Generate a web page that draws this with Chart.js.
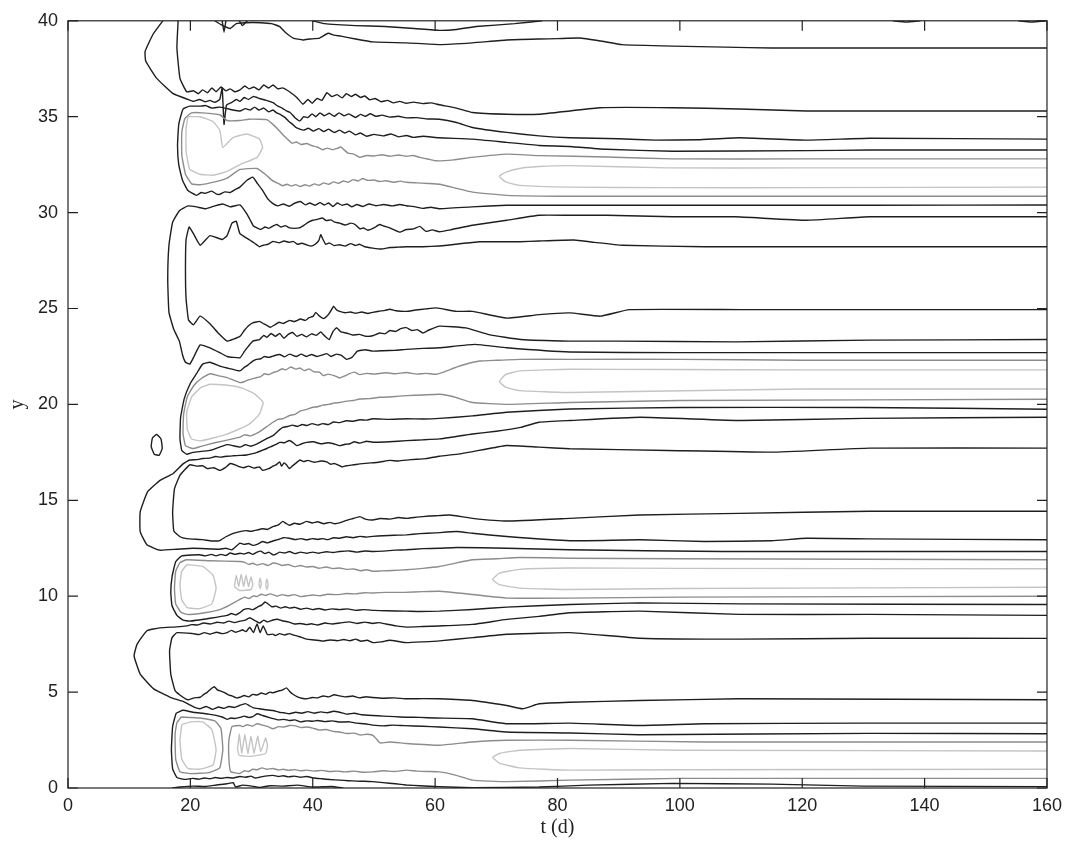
<!DOCTYPE html>
<html>
<head>
<meta charset="utf-8">
<script src="https://cdn.jsdelivr.net/npm/chart.js@4.4.0/dist/chart.umd.min.js"></script>
<style>
  html, body { margin: 0; padding: 0; background: #fff; }
  #wrap { width: 1069px; height: 849px; }
</style>
</head>
<body>
<div id="wrap"><canvas id="contourChart" width="1069" height="849"></canvas></div>
<script>
// tick values
const tTicks = [0, 20, 40, 60, 80, 100, 120, 140, 160];
const yTicks = [0, 5, 10, 15, 20, 25, 30, 35, 40];

// contour lines, each a list of [t, y]

// near the top border
const top39 = [[40,40],[42,39.85],[44,39.8],[47,39.75],[51.8,39.7],[56.6,39.6],[60.7,39.5],[63.5,39.55],[66.7,39.7],[73,39.85],[77.5,40]];
const top38 = [[24,40],[25,39.8],[26.5,39.6],[27.5,39.85],[29,39.9],[31.5,39.9],[33.3,39.85],[34.6,39.7],[35.5,39.4],[36.8,39.1],[38.4,39.0],[39.5,39.05],[41.1,39.1],[42.5,39.35],[43.5,39.25],[44.6,39.2],[47,39.05],[49.8,38.9],[55.3,38.85],[60.7,38.76],[66.1,38.85],[71.7,39.0],[77,39.05],[80,39.07],[83.6,39.1],[87,38.95],[90.6,38.76],[98.8,38.68],[107.4,38.63],[115,38.58],[131,38.58],[145,38.58],[160,38.58]];
const topSpike1 = [[25.2,40],[25.5,39.4],[25.8,40]];
const topSpike2 = [[28,40],[28.5,39.75],[29.3,40]];
const topBit1 = [[134.8,40],[137,39.93],[139.3,40]];
const topBit2 = [[155.3,40],[157.5,39.93],[159.7,40]];

// trough above y = 40
const min0Inner = [[18,40],[17.8,38.6],[18.3,37.0],[19.4,36.3],[20.5,36.35],[21.3,36.2],[22,36.4],[22.8,36.25],[23.5,36.5],[24.2,36.3],[25,36.55],[25.8,36.35],[26.5,36.45],[27.3,36.3],[28.1,36.4],[28.9,36.6],[29.6,36.45],[30.4,36.55],[31.2,36.4],[32,36.65],[32.8,36.5],[33.5,36.65],[34.3,36.45],[35.1,36.5],[36.2,36.3],[37.4,36.0],[38.4,35.65],[39.2,35.9],[39.9,35.7],[40.7,35.95],[41.5,35.85],[42.3,36.25],[43.1,36.05],[44,36.15],[44.8,35.98],[45.5,36.2],[46.3,36.05],[47,36.17],[47.8,36.0],[48.5,36.08],[49.3,35.88],[50.2,35.95],[51.2,35.78],[52.2,35.85],[53.2,35.72],[54.2,35.8],[55.3,35.7],[56.5,35.76],[58,35.68],[59.3,35.72],[60.7,35.62],[63.5,35.45],[66.1,35.22],[71.7,35.13],[77,35.13],[82,35.3],[86.9,35.47],[98.8,35.47],[109.7,35.4],[120.7,35.3],[131,35.3],[160,35.3]];
const min0Outer = [[15.5,40],[13.9,39.3],[12.6,38.4],[12.7,37.9],[14.5,37.0],[17.2,36.2],[19.6,35.9],[20.5,35.8],[21.5,35.9],[22.4,35.78],[23.2,35.85],[24,35.75],[24.8,35.9],[25.2,36.5],[25.5,34.6],[25.9,35.6],[26.8,35.75],[27.5,35.9],[28.1,35.8],[28.8,36.0],[29.5,35.9],[30.3,36.05],[31.3,35.95],[32.4,35.85],[33.5,35.73],[34.3,35.55],[35,35.45],[35.7,35.3],[36.3,35.22],[37.1,34.95],[37.9,34.78],[38.5,35.0],[39.2,34.95],[39.9,35.15],[40.5,35.0],[41.2,35.2],[41.9,35.05],[42.7,35.18],[43.5,35.02],[44.3,35.2],[45.1,35.05],[45.9,35.15],[47,34.96],[47.8,35.12],[48.6,35.02],[49.4,35.15],[50.3,35.02],[51.3,35.08],[52.6,34.98],[54,35.02],[55.3,34.94],[57,34.95],[58.8,34.88],[60.7,34.87],[63.5,34.7],[66.1,34.44],[71.7,34.18],[77,34.0],[82,33.9],[90,33.85],[96,33.78],[103,33.8],[109.7,33.9],[120.7,33.78],[131,33.88],[160,33.83]];

// band near y = 32
const bandDBlack = [[160,33.26],[131,33.26],[120.7,33.23],[98.8,33.2],[88,33.3],[82,33.45],[77,33.5],[71.7,33.66],[66.1,33.83],[60.7,33.9],[58,33.98],[56.5,33.92],[55.3,34.02],[54,33.95],[52.8,34.1],[51.5,34.0],[50,34.08],[48.8,33.98],[47.8,34.15],[47,34.05],[46,34.25],[45.2,34.15],[44.4,34.3],[43.5,34.18],[42.6,34.35],[41.8,34.22],[41,34.38],[40.1,34.25],[39.3,34.4],[38.5,34.3],[37.9,34.35],[37.2,34.45],[36.7,34.6],[36.1,34.75],[35.5,34.95],[34.8,35.1],[34.1,35.2],[33.5,35.35],[32.8,35.25],[32,35.45],[31.2,35.35],[30.5,35.5],[29.8,35.35],[29,35.42],[28.1,35.3],[27,35.35],[26,35.42],[24.8,35.5],[23.5,35.45],[22.5,35.58],[21.6,35.55],[19.9,35.55],[18.8,35.4],[18.1,34.6],[17.9,33.5],[18.1,32.5],[18.7,31.7],[19.6,31.15],[21,30.9],[21.8,31.05],[22.4,31.0],[23.5,31.12],[24.2,30.98],[24.8,30.95],[25.6,31.08],[26.5,31.05],[27.3,31.2],[28.1,31.33],[29.3,31.7],[30.2,31.85],[31.0,31.5],[31.8,31.16],[32.7,30.7],[33.5,30.47],[34.3,30.35],[35.2,30.45],[36.2,30.33],[37.1,30.5],[38,30.58],[38.8,30.4],[39.5,30.5],[40.4,30.38],[41.2,30.52],[41.9,30.4],[42.6,30.5],[43.3,30.32],[44.0,30.5],[44.8,30.38],[45.6,30.45],[46.4,30.3],[47.2,30.42],[48.2,30.32],[49.2,30.45],[50.3,30.36],[51.6,30.42],[53,30.35],[54.2,30.42],[55.3,30.36],[56.8,30.3],[58,30.22],[59.3,30.28],[60.7,30.2],[66,30.3],[71.7,30.38],[77,30.38],[100,30.38],[131,30.38],[160,30.4]];
const bandDGray = [[160,32.8],[120,32.8],[98.8,32.8],[88,32.9],[77,32.97],[71.7,33.05],[66,32.88],[63,32.75],[60.2,32.7],[59,32.78],[57.5,32.88],[56.4,32.98],[55.3,32.94],[54,33.0],[52.6,32.94],[51.3,33.02],[50,32.95],[48.8,32.98],[47.7,32.88],[46.7,33.05],[45.8,33.1],[45.2,33.25],[44.6,33.42],[44,33.35],[43.2,33.28],[42.4,33.36],[41.6,33.28],[40.7,33.42],[39.8,33.5],[39,33.6],[38.1,33.55],[37.3,33.68],[36.6,33.62],[35.8,33.85],[35,34.1],[34.3,34.35],[33.5,34.6],[32.5,34.85],[31.3,34.87],[29.5,34.87],[28.1,34.8],[26,34.8],[24.8,35.1],[22,35.2],[20.2,35.2],[19.1,34.9],[18.6,34.2],[18.6,33.0],[19.2,32.0],[20.2,31.5],[21.6,31.45],[24,31.6],[26,31.8],[28.1,32.25],[30.9,32.3],[32.5,31.93],[33.2,31.72],[33.8,31.6],[34.5,31.5],[35.1,31.4],[35.8,31.48],[36.5,31.38],[37.2,31.46],[38,31.36],[38.7,31.45],[39.5,31.38],[40.3,31.5],[41,31.42],[41.8,31.55],[42.6,31.48],[43.4,31.6],[44.2,31.52],[45,31.65],[45.8,31.58],[46.6,31.72],[47.4,31.65],[48.2,31.78],[49,31.68],[50,31.7],[50.9,31.62],[52,31.66],[53.2,31.58],[54.3,31.64],[55.3,31.58],[57,31.55],[58.8,31.52],[60.7,31.48],[66.1,31.07],[71.7,30.9],[82,30.85],[100,30.85],[160,30.85]];
const bandDLightLoop = [[19.6,35.0],[21.6,35.0],[23.7,34.75],[24.8,34.3],[25.3,33.4],[26.9,33.9],[29.2,34.1],[31.3,33.83],[31.8,33.4],[30.9,32.88],[28.1,32.5],[26,32.15],[23.7,31.95],[21.6,32.0],[19.9,32.25],[19.3,33.2],[19.3,34.4],[19.6,35.0]];
const bandDLightTail = [[160,32.33],[120,32.33],[98,32.33],[82,32.45],[77,32.4],[73.8,32.3],[71.5,32.1],[70.5,31.9],[71.5,31.6],[73.8,31.42],[82,31.33],[98,31.3],[120,31.3],[160,31.33]];

// trough near y = 26.5
const minCDOuter = [[160,29.78],[131,29.78],[120.7,29.6],[109,29.78],[98.8,29.78],[88,29.86],[82,29.86],[77,29.86],[71.7,29.6],[66.1,29.34],[62.5,29.1],[60.7,29.0],[59.5,29.1],[58.5,29.02],[57.5,29.28],[56.5,29.15],[55.3,29.12],[54.2,28.98],[53.3,29.1],[52.5,29.22],[51.6,29.3],[50.9,29.38],[50,29.2],[49,29.08],[48.3,29.2],[47.7,29.15],[46.9,29.38],[46.2,29.45],[45.3,29.35],[44.4,29.45],[43.6,29.5],[43,29.62],[42.2,29.58],[41.6,29.72],[40.8,29.65],[40,29.6],[39.3,29.5],[38.6,29.35],[37.8,29.2],[37,29.18],[36.2,29.2],[35.5,29.32],[34.8,29.25],[34.1,29.38],[33.5,29.3],[32.8,29.18],[32.2,29.25],[31.5,29.12],[30.9,29.2],[30.3,29.3],[29.8,29.6],[29.2,29.95],[28.1,30.4],[26.5,30.3],[25.3,30.45],[24,30.35],[22.5,30.2],[21,30.3],[19.6,30.35],[18.2,30.1],[17.1,29.5],[16.5,28.3],[16.3,26.5],[16.5,24.8],[17.3,23.9],[18.2,23.3],[18.7,22.6],[19.2,22.2],[19.9,22.1],[20.6,22.5],[21.6,23.1],[23.2,22.95],[24.8,22.7],[26,22.5],[28.1,22.43],[28.8,22.75],[29.5,23.04],[30.2,23.3],[31.3,23.38],[32,23.6],[32.5,23.5],[33.2,23.7],[33.9,23.55],[34.6,23.7],[35.3,23.45],[36,23.65],[36.7,23.75],[37.4,23.55],[38.2,23.65],[39,23.52],[39.8,23.68],[40.6,23.6],[41.3,23.78],[42,23.55],[42.7,23.38],[43.3,23.8],[43.9,24.0],[44.6,23.78],[45.5,23.72],[46.5,23.62],[47.6,23.65],[48.7,23.55],[49.8,23.58],[50.9,23.72],[51.8,23.68],[52.6,23.85],[53.5,23.8],[54.4,23.95],[55.3,24.0],[56.2,23.85],[57.1,23.9],[58,23.72],[59,23.88],[60.7,24.08],[65,23.99],[68.8,23.64],[74,23.38],[82,23.3],[90,23.3],[109,23.26],[131,23.35],[160,23.38]];
const minCDInner = [[160,28.22],[120,28.22],[104,28.22],[90.6,28.3],[86,28.45],[82.7,28.57],[77,28.52],[73.8,28.48],[67.3,28.48],[64.7,28.4],[62,28.3],[60.7,28.26],[58,28.22],[55.3,28.22],[54,28.2],[52.6,28.18],[51.2,28.1],[49.8,28.15],[48.5,28.22],[47.6,28.35],[47,28.28],[46.2,28.38],[45.3,28.25],[44.4,28.32],[43.5,28.28],[42.7,28.42],[42.1,28.35],[41.6,28.65],[41.3,28.85],[41.0,28.55],[40.4,28.35],[39.7,28.25],[39,28.32],[38.2,28.4],[37.5,28.35],[36.8,28.5],[36.2,28.45],[35.3,28.52],[34.5,28.42],[33.5,28.5],[32.7,28.35],[31.9,28.3],[31.3,28.22],[30.5,28.4],[29.7,28.57],[28.1,28.9],[27.5,29.55],[26.8,29.45],[26.0,28.8],[25.2,28.6],[23.2,28.8],[21.6,28.3],[20.5,28.9],[19.8,29.25],[19.3,28.6],[19.2,27.0],[19.3,25.5],[19.7,24.4],[20.5,24.15],[21.6,24.6],[23.2,24.2],[24.6,23.7],[26,23.3],[28.1,23.55],[28.8,23.85],[29.5,24.1],[30.2,24.25],[31.3,24.33],[32,24.2],[32.5,24.12],[33.1,24.02],[33.8,24.15],[34.5,24.28],[35.2,24.22],[36.2,24.38],[37,24.32],[38,24.45],[38.8,24.38],[39.4,24.52],[40.1,24.6],[40.5,24.8],[41.1,24.6],[41.8,24.48],[42.6,24.7],[43.1,24.95],[43.4,25.12],[43.9,24.92],[44.4,24.85],[45.3,24.78],[46.2,24.82],[47,24.75],[48,24.82],[49,24.74],[49.8,24.8],[50.8,24.86],[51.8,24.9],[52.6,24.96],[53.6,24.88],[55.3,24.85],[56.8,24.92],[58.5,24.98],[60.2,25.03],[63.5,24.85],[66.1,24.85],[71.7,24.5],[77,24.68],[82,24.77],[87,24.6],[91.7,24.94],[110,24.94],[160,24.94]];

// band near y = 21.3
const bandCBlack = [[160,22.7],[131,22.7],[100,22.7],[82,22.73],[71.7,22.95],[66.5,23.13],[60.7,22.95],[58,22.92],[55.3,22.87],[53.5,22.82],[51.5,22.8],[49.8,22.78],[48.6,22.85],[47.3,22.78],[46.4,22.45],[45.5,22.35],[44.7,22.55],[43.9,22.62],[43,22.5],[42.3,22.65],[41.6,22.58],[40.7,22.5],[39.8,22.6],[39,22.5],[38.1,22.62],[37.3,22.5],[36.2,22.62],[35.4,22.48],[34.6,22.6],[33.5,22.52],[32.8,22.45],[32.1,22.5],[31.5,22.38],[30.8,22.35],[30.2,22.26],[29.4,22.05],[28.7,21.9],[28.1,21.75],[26,21.9],[24.8,22.0],[23.2,22.2],[22,22.1],[21,21.6],[20,21.1],[19.0,20.3],[18.4,19.3],[18.3,18.2],[18.6,17.6],[19.4,17.4],[20.4,17.5],[23.2,17.6],[26,17.9],[28.1,17.77],[29,17.9],[29.8,17.82],[30.9,17.94],[31.8,18.1],[32.7,18.25],[33.5,18.37],[34.3,18.6],[35.1,18.8],[35.9,18.85],[36.7,18.92],[37.5,18.85],[38.3,18.95],[39,18.9],[39.9,19.0],[40.8,18.92],[41.6,19.0],[42.5,18.95],[43.4,19.08],[44.4,19.05],[45.5,19.15],[46.6,19.12],[47.7,19.2],[48.8,19.18],[49.8,19.25],[52.5,19.22],[55.3,19.25],[58,19.24],[60.7,19.27],[66.1,19.4],[71.7,19.59],[82,19.76],[100,19.84],[130,19.84],[160,19.75]];
const bandCGray = [[160,22.3],[120,22.3],[100,22.35],[82,22.35],[73.8,22.35],[70,22.3],[67.3,22.26],[64,22.0],[61.5,21.7],[60.2,21.57],[58.5,21.62],[57,21.58],[55.3,21.66],[53.5,21.6],[51.8,21.65],[50,21.58],[48.8,21.62],[47.7,21.55],[46.8,21.68],[46,21.6],[45.2,21.48],[44.4,21.38],[43.5,21.5],[42.5,21.58],[41.7,21.5],[41.1,21.68],[40.2,21.7],[39.4,21.85],[38.6,21.76],[37.9,21.9],[37.2,21.84],[36.4,21.95],[35.6,21.8],[35,21.86],[34.2,21.72],[33.5,21.66],[32.8,21.55],[32.1,21.6],[31.5,21.45],[30.9,21.4],[30.2,21.34],[29.5,21.28],[28.8,21.18],[28.1,21.14],[26,21.4],[24.5,21.5],[23.2,21.6],[21.8,21.35],[20.6,21.0],[19.5,20.4],[18.9,19.5],[18.8,18.5],[19.2,17.85],[20.4,17.7],[21.6,17.8],[24,18.0],[26.9,18.2],[28.1,18.29],[28.9,18.42],[29.8,18.36],[30.9,18.5],[31.7,18.66],[32.5,18.84],[33.5,19.07],[34.3,19.22],[35.2,19.26],[36.2,19.42],[37.1,19.48],[38,19.66],[39,19.74],[39.9,19.84],[40.8,19.88],[41.6,19.96],[42.6,20.0],[43.5,20.07],[44.4,20.1],[45.5,20.17],[46.6,20.2],[47.7,20.28],[49.3,20.3],[50.9,20.37],[53,20.4],[55.3,20.46],[58,20.49],[60.7,20.53],[63,20.4],[66.1,20.1],[71.7,20.0],[82,20.1],[100,20.2],[160,20.27]];
const bandCLightLoop = [[20.2,20.4],[21.6,20.85],[23.2,21.05],[26,21.0],[28.5,20.85],[30.5,20.55],[31.9,20.1],[31.2,19.45],[29.5,18.95],[26,18.45],[23.7,18.25],[21.6,18.1],[20.2,18.2],[19.5,18.7],[19.4,19.6],[20.2,20.4]];
const bandCLightTail = [[160,21.8],[120,21.8],[98,21.82],[82,21.83],[73.8,21.75],[71.5,21.55],[70.5,21.2],[71.5,20.9],[73.8,20.72],[82,20.62],[98,20.7],[120,20.8],[160,20.8]];

// trough near y = 15.5
const minBCOuter = [[160,19.33],[130,19.27],[110,19.16],[93.5,19.33],[82,19.16],[77,19.07],[74,18.8],[70,18.6],[66.1,18.46],[60.7,18.2],[58,18.15],[55.3,18.11],[52.5,18.05],[49.8,18.03],[48.8,18.08],[47.7,17.98],[46.8,18.05],[46.1,17.95],[45.3,17.92],[44.4,17.85],[43.4,17.95],[42.5,18.0],[41.3,17.95],[40.1,18.05],[39,18.02],[38.2,17.95],[37.4,17.85],[36.8,18.0],[36.2,18.12],[35.4,18.0],[34.6,18.02],[33.9,17.9],[33.2,17.8],[32.5,17.7],[31.7,17.6],[30.9,17.5],[30,17.42],[29.2,17.36],[28.1,17.34],[27,17.32],[26,17.3],[25,17.25],[24.1,17.28],[23.2,17.2],[22,17.18],[21,17.12],[19.9,17.1],[18.8,16.9],[17.2,16.4],[15.1,16.05],[13.0,15.44],[11.8,14.4],[11.8,13.37],[12.9,12.68],[15,12.4],[17.8,12.45],[20.4,12.5],[24.8,12.45],[25.8,12.5],[26.8,12.42],[28.1,12.77],[28.8,12.7],[29.5,12.75],[30.2,12.65],[30.9,12.7],[31.8,12.85],[32.6,12.78],[33.5,12.88],[34.3,12.95],[35.2,13.05],[36.2,13.02],[37.1,12.95],[38.1,13.0],[39,12.94],[39.9,13.0],[40.8,12.96],[41.6,13.0],[42.5,12.95],[43.4,13.05],[44.4,13.02],[45.5,13.1],[46.6,13.05],[47.7,13.12],[48.8,13.08],[49.8,13.12],[51.5,13.15],[53.3,13.18],[55.3,13.2],[57.5,13.26],[60,13.3],[63.5,13.37],[66.1,13.28],[71.7,13.11],[82,12.89],[93.5,12.94],[104,12.85],[115,12.89],[120.7,13.02],[131,12.99],[160,12.94]];
const minBCInner = [[160,17.72],[131,17.72],[115,17.51],[98,17.6],[82,17.69],[77,17.77],[71.7,17.86],[68,17.65],[64,17.42],[60.7,17.3],[58.5,17.17],[56,17.12],[54,17.05],[52.6,17.08],[51,17.0],[49.5,16.95],[47.7,16.9],[46.7,16.85],[45.5,16.8],[44.8,16.74],[44.1,16.85],[43.5,16.92],[42.9,16.88],[42.3,17.0],[41.3,17.05],[40.3,16.98],[39.2,17.08],[38.5,17.02],[37.9,17.1],[37.3,16.95],[36.7,16.8],[36.2,16.65],[35.7,16.85],[35.3,16.95],[34.9,16.78],[34.6,17.0],[34,16.85],[33.5,16.78],[32.8,16.65],[31.8,16.56],[31.3,16.74],[30.4,16.68],[29.5,16.78],[28.7,16.7],[28.1,16.74],[27.3,16.85],[26.5,16.92],[25.7,16.7],[24.8,16.56],[23.8,16.7],[22.8,16.65],[22,16.8],[21,16.78],[19.9,16.85],[18.3,16.3],[17.4,15.6],[17.1,14.4],[17.3,13.4],[18.3,13.1],[19.4,13.0],[22,12.95],[23.5,12.88],[24.8,12.9],[25.8,13.1],[27,13.28],[28.1,13.37],[29.1,13.42],[29.9,13.38],[30.9,13.45],[31.8,13.52],[32.6,13.48],[33.5,13.63],[34.3,13.7],[35.1,13.9],[35.7,13.78],[36.2,13.7],[37,13.8],[37.9,13.75],[39,13.9],[39.9,13.82],[40.8,13.88],[41.8,13.78],[42.8,13.85],[43.6,13.78],[44.4,13.82],[45.5,13.95],[46.6,14.05],[47.7,14.15],[48.6,14.02],[49.8,13.97],[51,14.05],[52.6,14.02],[54,14.1],[55.3,14.06],[57,14.12],[59,14.18],[60.5,14.2],[62.4,14.23],[66.1,14.06],[71.7,13.92],[82,14.06],[93.4,14.23],[109.7,14.32],[131,14.43],[160,14.43]];
const minBCOval = [[14.5,18.45],[15.2,18.2],[15.4,17.7],[14.9,17.35],[14.1,17.4],[13.6,17.8],[13.8,18.25],[14.5,18.45]];

// band near y = 11
const bandBBlack = [[160,12.33],[131,12.33],[107,12.33],[82,12.42],[71.7,12.5],[63.5,12.54],[60.7,12.5],[58,12.48],[55.3,12.42],[53.5,12.4],[51.5,12.35],[49.8,12.33],[48.5,12.36],[47.2,12.3],[46,12.36],[44.4,12.33],[43.3,12.28],[42.2,12.32],[41,12.24],[40,12.3],[39,12.24],[38,12.3],[37.1,12.22],[36.2,12.33],[35.4,12.25],[34.6,12.3],[33.9,12.18],[33.5,12.16],[32.8,12.3],[32.2,12.22],[31.5,12.35],[30.9,12.3],[30.2,12.18],[29.5,12.28],[28.8,12.2],[28.1,12.24],[27.3,12.18],[26.5,12.25],[25.8,12.12],[25,12.18],[24.2,12.1],[23.4,12.18],[22.5,12.1],[21.5,12.16],[20.4,12.15],[18.6,12.1],[17.6,11.8],[17.0,11.0],[16.8,10.2],[17.0,9.5],[17.8,9.0],[18.8,8.75],[19.9,8.7],[23.2,8.85],[26,9.0],[26.7,9.1],[27.4,9.02],[28.1,9.14],[28.7,9.3],[29.5,9.35],[30.2,9.3],[30.9,9.42],[31.7,9.55],[32.2,9.7],[32.6,9.62],[33.3,9.45],[34,9.48],[34.8,9.38],[35.5,9.45],[36.2,9.38],[37.1,9.42],[38,9.32],[39,9.38],[40,9.3],[41,9.36],[42,9.28],[43.1,9.34],[44.4,9.3],[45.7,9.34],[47,9.26],[48.3,9.3],[50,9.26],[52,9.24],[55.3,9.22],[57.5,9.2],[60.7,9.22],[66.1,9.31],[71.7,9.43],[82,9.57],[93.4,9.65],[110,9.6],[160,9.57]];
const bandBGray = [[160,11.9],[100,11.95],[82,11.98],[73.8,12.02],[70,11.95],[66.1,11.9],[63,11.7],[60.7,11.55],[58,11.45],[55.3,11.38],[53,11.34],[51.2,11.32],[49.8,11.3],[48.8,11.38],[47.8,11.33],[46.7,11.42],[45.5,11.4],[44.4,11.47],[43.3,11.44],[42.2,11.52],[41,11.46],[40,11.55],[39,11.52],[38,11.6],[37,11.54],[36,11.65],[35,11.6],[34.2,11.7],[33.5,11.73],[32.7,11.6],[31.8,11.7],[30.9,11.62],[30.2,11.72],[29.5,11.66],[28.8,11.78],[28.1,11.81],[23.2,11.85],[19.4,11.9],[18.3,11.75],[17.6,11.3],[17.4,10.4],[17.6,9.6],[18.5,9.15],[19.5,9.05],[21.6,9.1],[24.8,9.3],[26.5,9.55],[28.1,9.83],[28.9,9.95],[29.6,9.88],[30.3,10.02],[30.9,9.98],[31.6,10.1],[32.3,10.04],[33,10.12],[33.5,10.08],[34.2,10.0],[35,10.08],[36,10.02],[37,10.08],[38,9.98],[39,10.02],[40,10.06],[41.2,10.02],[42.4,10.1],[44,10.08],[45.5,10.14],[47,10.12],[48.4,10.18],[49.8,10.17],[52,10.2],[55,10.2],[58,10.24],[60.7,10.26],[66.1,10.09],[71.7,9.9],[82,9.9],[100,9.95],[160,10.0]];
const bandBLightLoop = [[19.4,11.65],[22,11.55],[23.7,11.1],[24.2,10.4],[23.5,9.6],[21.5,9.35],[19.5,9.4],[18.6,9.8],[18.3,10.6],[18.6,11.3],[19.4,11.65]];
const bandBLightSquiggle = [[27.2,10.5],[27.5,11.1],[27.9,10.5],[28.3,11.15],[28.7,10.5],[29.1,11.1],[29.5,10.5],[29.9,11.0],[30.2,10.6],[29.9,10.35],[28,10.3],[27.2,10.5]];
const bandBLightDot1 = [[31.2,10.65],[31.4,10.95],[31.6,10.65],[31.4,10.4],[31.2,10.65]];
const bandBLightDot2 = [[32.3,10.6],[32.5,10.9],[32.7,10.6],[32.5,10.35],[32.3,10.6]];
const bandBLightTail = [[160,11.43],[100,11.45],[82,11.47],[73.8,11.4],[70.5,11.2],[69.4,10.87],[70.5,10.6],[73.8,10.42],[82,10.35],[100,10.4],[160,10.47]];

// trough near y = 6.2
const minABOuter = [[160,9.0],[131,9.05],[109.7,9.05],[93.4,9.22],[82,9.14],[77,8.95],[71.7,8.79],[66.1,8.53],[60.7,8.45],[58,8.42],[55.3,8.39],[53.6,8.45],[52,8.55],[50.8,8.62],[49.8,8.58],[48.5,8.65],[47.2,8.58],[46,8.66],[44.4,8.6],[43.2,8.55],[42,8.6],[40.8,8.5],[39.8,8.56],[39,8.52],[38,8.58],[37,8.55],[36,8.66],[35,8.72],[34.2,8.8],[33.5,8.76],[32.6,8.66],[32,8.75],[31.3,8.6],[30.6,8.72],[29.7,8.88],[29,8.75],[28.1,8.7],[27.2,8.62],[26.3,8.7],[25.4,8.6],[24.4,8.64],[23.2,8.55],[22.2,8.6],[21.1,8.5],[20.2,8.52],[19.4,8.45],[17.8,8.4],[15,8.35],[12.9,8.2],[11.3,7.5],[10.8,6.89],[11.8,5.94],[14,5.17],[16.7,4.73],[18.8,4.52],[19.8,4.35],[20.7,4.2],[21.6,4.13],[22.6,4.25],[23.6,4.1],[24.6,4.22],[25.5,4.15],[26.3,4.25],[27.2,4.2],[28,4.3],[29,4.4],[29.6,4.3],[30.3,4.18],[31.3,4.13],[32.3,4.08],[33.5,4.04],[34.5,3.95],[35.3,3.92],[36.2,3.87],[37.2,3.95],[38.2,3.9],[39.2,3.98],[40.2,3.9],[41.3,3.97],[42.4,3.92],[43.4,4.0],[44.4,3.95],[45.6,3.85],[46.8,3.9],[48,3.82],[49.8,3.78],[51.5,3.75],[53.4,3.72],[55.3,3.69],[57.5,3.68],[60,3.65],[66.1,3.61],[71.7,3.35],[82,3.38],[93.4,3.26],[104,3.35],[130,3.38],[160,3.38]];
const minABInner = [[160,7.8],[131,7.81],[109.7,7.76],[93.4,7.81],[82,8.1],[71.7,8.02],[66.1,7.84],[60.7,7.67],[58,7.62],[55.3,7.58],[54,7.64],[52.6,7.7],[51.2,7.62],[49.8,7.58],[48.9,7.7],[47.9,7.65],[47,7.76],[46.1,7.68],[45.1,7.74],[44,7.68],[42.8,7.72],[41.6,7.66],[40.3,7.72],[39,7.76],[38.2,7.85],[37.5,7.92],[36.8,7.98],[36.2,8.05],[35.4,7.98],[34.6,8.05],[33.9,7.95],[33.5,8.02],[32.6,8.0],[31.9,8.45],[31.4,8.1],[30.9,8.55],[30.3,8.1],[29.7,8.38],[29.1,8.15],[28.5,8.25],[28.1,8.19],[27.4,8.12],[26.7,8.22],[26,8.1],[25.2,8.05],[24.3,8.12],[23.2,8.02],[22.3,8.1],[21.4,8.0],[20.4,8.05],[17.8,8.1],[17,7.84],[16.6,7.15],[16.8,5.94],[17.5,5.08],[18.8,4.73],[19.6,4.6],[20.6,4.7],[21.6,4.73],[22.2,4.88],[22.8,5.0],[23.3,5.15],[23.9,5.28],[24.4,5.12],[25,5.05],[25.5,4.99],[26.2,4.85],[26.8,4.8],[27.5,4.7],[28.1,4.73],[28.8,4.82],[29.5,4.75],[30.2,4.88],[30.9,4.85],[31.6,4.95],[32.3,4.88],[33.0,5.0],[33.5,4.96],[34.3,5.05],[35.0,5.1],[35.7,5.22],[36.2,5.05],[36.7,4.9],[37.5,4.75],[38.2,4.68],[39,4.65],[39.9,4.72],[40.8,4.7],[41.7,4.8],[42.6,4.75],[43.5,4.86],[44.4,4.8],[45.4,4.75],[46.5,4.8],[47.6,4.7],[48.7,4.76],[49.8,4.72],[51.5,4.68],[53.4,4.7],[55.3,4.65],[58,4.66],[60.7,4.65],[66.1,4.56],[71.7,4.3],[74.3,4.13],[77,4.39],[82,4.47],[93.4,4.56],[109.7,4.65],[160,4.6]];

// band near y = 1.5
const bandABlack = [[160,2.83],[131,2.85],[93.4,2.78],[82,2.87],[71.7,2.92],[66.1,3.09],[60.7,3.18],[58,3.22],[55,3.25],[53,3.28],[51.5,3.24],[49.8,3.28],[48.5,3.35],[47.2,3.38],[46,3.45],[44.4,3.44],[43.2,3.5],[42,3.46],[40.8,3.52],[40,3.48],[39,3.5],[38,3.45],[37.1,3.55],[36.2,3.52],[35.3,3.58],[34.4,3.55],[33.5,3.62],[32.6,3.7],[31.8,3.78],[30.9,3.87],[30.2,3.72],[29.5,3.68],[28.8,3.75],[28.1,3.68],[27.3,3.62],[26.6,3.65],[26,3.58],[25.2,3.7],[24,3.8],[23,3.85],[22,3.9],[21.2,3.92],[20.4,3.95],[18.8,4.05],[17.7,3.9],[17.1,3.2],[16.9,2.0],[17.1,1.0],[17.8,0.55],[19,0.45],[20.4,0.5],[21.3,0.46],[22.3,0.52],[23.2,0.48],[24.1,0.55],[25,0.5],[26,0.55],[27,0.52],[28.1,0.6],[29,0.56],[29.9,0.62],[30.6,0.52],[31.3,0.56],[32.2,0.62],[33.5,0.66],[34.4,0.6],[35.2,0.64],[36,0.58],[37,0.62],[38,0.56],[39,0.6],[40.2,0.52],[41.5,0.48],[42.8,0.44],[44.4,0.41],[45.8,0.38],[47.2,0.36],[48.5,0.35],[49.8,0.33],[51.5,0.28],[53.5,0.22],[55.3,0.16],[57.5,0.12],[60.7,0.07],[66.1,0.02],[77,0.05],[85,0.15],[98.8,0.24],[115,0.2],[130,0.1],[160,0.07]];
const bandAGrayLoop = [[18.5,3.7],[21.6,3.65],[24,3.5],[25,3.1],[25.3,2.0],[24.8,1.05],[23,0.8],[20,0.75],[18.3,0.85],[17.6,1.5],[17.5,2.8],[17.8,3.4],[18.5,3.7]];
const bandAGray = [[160,2.4],[104,2.4],[82,2.49],[71.7,2.49],[66.1,2.4],[60.7,2.23],[55.3,2.32],[52.6,2.4],[51,2.35],[50.3,2.6],[49.8,2.75],[48.8,2.8],[47.8,2.76],[46.8,2.86],[45.6,2.84],[44.4,2.92],[43.3,2.95],[42.2,3.05],[41.1,3.02],[40,3.12],[39,3.18],[38.1,3.15],[37.2,3.24],[36.2,3.26],[35.3,3.18],[34.4,3.2],[33.5,3.09],[32.7,3.2],[31.8,3.28],[30.9,3.35],[30.1,3.22],[29.3,3.3],[28.6,3.2],[28.1,3.26],[26.8,3.2],[26.3,2.5],[26.3,1.5],[26.6,0.85],[28.1,0.76],[28.8,0.9],[29.5,0.86],[30.2,0.98],[30.9,0.95],[31.7,1.05],[32.5,0.98],[33.5,1.02],[34.4,0.94],[35.2,0.98],[36,0.92],[37,0.96],[38,0.9],[39,0.93],[40.2,0.88],[41.5,0.92],[42.8,0.86],[44,0.88],[45.4,0.84],[46.8,0.88],[48.3,0.82],[49.8,0.84],[51.5,0.9],[53.4,0.86],[55.3,0.93],[57,0.88],[58.8,0.86],[60.7,0.84],[63,0.7],[66.1,0.41],[71.7,0.33],[82,0.41],[100,0.5],[160,0.5]];
const bandALightLoop = [[18.6,3.3],[20,3.45],[22,3.45],[23.5,3.05],[24.2,2.0],[23.7,1.2],[21.6,0.98],[19.6,1.02],[18.6,1.5],[18.3,2.5],[18.6,3.3]];
const bandALightSquiggle = [[27.7,2.0],[28.0,2.8],[28.4,1.8],[28.9,2.8],[29.4,1.8],[29.9,2.7],[30.4,1.8],[31.0,2.7],[31.5,1.9],[32.3,2.6],[32.6,2.2],[32.3,1.8],[30,1.65],[28,1.7],[27.7,2.0]];
const bandALightTail = [[160,1.93],[100,1.97],[82,2.06],[73.8,1.97],[70.5,1.8],[69.4,1.6],[70.5,1.3],[73.8,1.05],[82,0.93],[100,0.95],[160,0.98]];
const bottomBlack = [[17,0],[18.3,0.05],[20.4,0.1],[22.5,0.08],[24.3,0.16],[26,0.22],[27,0.28],[27.4,0.05],[28.5,0.15],[30,0.1],[31.3,0.03],[33,0.12],[35,0.1],[37.5,0.15],[40,0.05],[43,0.08],[45,0]];

// which lines belong to which contour shade
const blackLines = [top39, top38, topSpike1, topSpike2, topBit1, topBit2, min0Inner, min0Outer,
    bandDBlack, minCDOuter, minCDInner, bandCBlack, minBCOuter, minBCInner, minBCOval,
    bandBBlack, minABOuter, minABInner, bandABlack, bottomBlack];
const grayLines = [bandDGray, bandCGray, bandBGray, bandAGrayLoop, bandAGray];
const lightLines = [bandDLightLoop, bandDLightTail, bandCLightLoop, bandCLightTail,
    bandBLightLoop, bandBLightSquiggle, bandBLightDot1, bandBLightDot2, bandBLightTail,
    bandALightLoop, bandALightSquiggle, bandALightTail];

const toPoints = line => line.map(p => ({ x: p[0], y: p[1] }));

const datasets = [];
[[lightLines, '#c4c4c4'], [grayLines, '#8c8c8c'], [blackLines, '#1e1e1e']].forEach(([group, color]) => {
    group.forEach(line => {
        datasets.push({
            data: toPoints(line),
            borderColor: color,
            borderWidth: 1.4,
            showLine: true,
            pointRadius: 0,
            fill: false,
            tension: 0.12
        });
    });
});

// box around the plot with inward ticks on all four sides
const frameTicks = {
    id: 'frameTicks',
    afterDatasetsDraw(chart) {
        const { ctx, chartArea: a, scales: { x, y } } = chart;
        const len = 10;
        ctx.save();
        ctx.strokeStyle = '#222';
        ctx.lineWidth = 1.2;
        ctx.strokeRect(a.left, a.top, a.right - a.left, a.bottom - a.top);
        ctx.beginPath();
        x.ticks.forEach(tk => {
            const px = x.getPixelForValue(tk.value);
            ctx.moveTo(px, a.bottom); ctx.lineTo(px, a.bottom - len);
            ctx.moveTo(px, a.top); ctx.lineTo(px, a.top + len);
        });
        y.ticks.forEach(tk => {
            const py = y.getPixelForValue(tk.value);
            ctx.moveTo(a.left, py); ctx.lineTo(a.left + len, py);
            ctx.moveTo(a.right, py); ctx.lineTo(a.right - len, py);
        });
        ctx.stroke();
        ctx.restore();
    }
};

const tickFont = { family: 'Liberation Sans', size: 18 };
const titleFont = { family: 'Liberation Serif', size: 20 };

new Chart(document.getElementById('contourChart'), {
    type: 'scatter',
    data: { datasets },
    options: {
        responsive: false,
        animation: false,
        events: [],
        layout: { padding: { left: 0, top: 16, right: 21, bottom: 0 } },
        plugins: { legend: { display: false }, tooltip: { enabled: false } },
        scales: {
            x: {
                type: 'linear', min: 0, max: 160,
                afterBuildTicks: s => { s.ticks = tTicks.map(v => ({ value: v })); },
                afterFit: s => { s.height = 61; },
                grid: { display: false, drawTicks: false },
                border: { display: false },
                ticks: { padding: 7, font: tickFont, color: '#222', maxRotation: 0 },
                title: { display: true, text: 't (d)', font: titleFont, color: '#222', padding: { top: 0, bottom: 9 } }
            },
            y: {
                type: 'linear', min: 0, max: 40,
                afterBuildTicks: s => { s.ticks = yTicks.map(v => ({ value: v })); },
                afterFit: s => { s.width = 68; },
                grid: { display: false, drawTicks: false },
                border: { display: false },
                ticks: { padding: 10, font: tickFont, color: '#222' },
                title: { display: true, text: 'y', font: titleFont, color: '#222', padding: { top: 6, bottom: 0 } }
            }
        }
    },
    plugins: [frameTicks]
});
</script>
</body>
</html>
